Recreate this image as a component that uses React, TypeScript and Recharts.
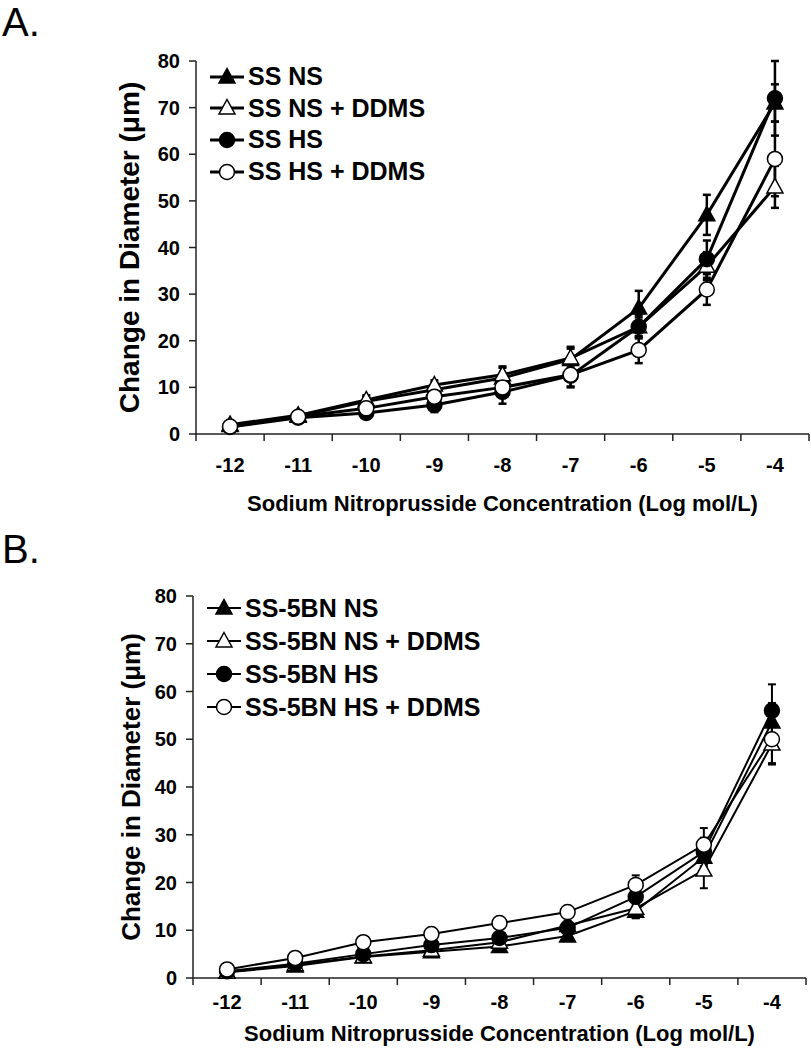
import React from "react";
import { LineChart, Line, XAxis, YAxis, ErrorBar, Legend, Label } from "recharts";

const concentrations = [-12, -11, -10, -9, -8, -7, -6, -5, -4];
const edgeTicks = [-12.5, -11.5, -10.5, -9.5, -8.5, -7.5, -6.5, -5.5, -4.5, -3.5];
const yTicks = [0, 10, 20, 30, 40, 50, 60, 70, 80];

// panel A - SS rats
const ssNS = [1.8, 3.8, 7.0, 9.5, 12.0, 16.0, 27.0, 47.0, 71.0];
const ssNSErr = [0.5, 0.6, 1.0, 1.5, 2.5, 2.7, 3.7, 4.3, 4.0];
const ssNSDdms = [2.0, 4.0, 7.3, 10.5, 12.7, 16.3, 23.0, 36.0, 53.0];
const ssNSDdmsErr = [0.5, 0.6, 1.0, 1.0, 1.5, 2.0, 2.0, 3.0, 4.5];
const ssHS = [1.5, 3.5, 4.5, 6.2, 9.0, 12.5, 23.0, 37.5, 72.0];
const ssHSErr = [0.5, 0.6, 1.0, 1.5, 2.5, 2.5, 2.5, 4.0, 8.0];
const ssHSDdms = [1.6, 3.7, 5.5, 8.0, 10.0, 12.7, 18.0, 31.0, 59.0];
const ssHSDdmsErr = [0.5, 0.6, 1.0, 1.0, 1.5, 2.5, 2.8, 3.3, 8.0];

// panel B - SS-5BN rats
const bnNS = [1.2, 2.5, 4.4, 5.5, 6.6, 8.8, 14.0, 25.3, 53.6];
const bnNSErr = [0.3, 0.5, 0.5, 0.6, 0.8, 1.0, 1.5, 2.5, 4.0];
const bnNSDdms = [1.2, 2.8, 4.5, 5.8, 7.5, 11.0, 14.6, 22.6, 49.0];
const bnNSDdmsErr = [0.3, 0.5, 0.5, 0.6, 0.8, 1.0, 2.0, 3.8, 4.0];
const bnHS = [1.4, 3.0, 5.0, 6.9, 8.4, 10.5, 17.0, 26.4, 56.0];
const bnHSErr = [0.3, 0.5, 0.6, 0.8, 1.0, 1.2, 2.0, 3.0, 5.5];
const bnHSDdms = [1.8, 4.2, 7.5, 9.2, 11.5, 13.8, 19.5, 27.9, 50.0];
const bnHSDdmsErr = [0.3, 0.5, 0.6, 0.8, 1.0, 1.2, 2.0, 3.5, 5.3];

type Series = {
  key: string;
  name: string;
  kind: "triangle" | "circle";
  filled: boolean;
  values: number[];
  errors: number[];
};

const panelA: Series[] = [
  { key: "ns", name: "SS NS", kind: "triangle", filled: true, values: ssNS, errors: ssNSErr },
  { key: "nsd", name: "SS NS + DDMS", kind: "triangle", filled: false, values: ssNSDdms, errors: ssNSDdmsErr },
  { key: "hs", name: "SS HS", kind: "circle", filled: true, values: ssHS, errors: ssHSErr },
  { key: "hsd", name: "SS HS + DDMS", kind: "circle", filled: false, values: ssHSDdms, errors: ssHSDdmsErr },
];

const panelB: Series[] = [
  { key: "ns", name: "SS-5BN NS", kind: "triangle", filled: true, values: bnNS, errors: bnNSErr },
  { key: "nsd", name: "SS-5BN NS + DDMS", kind: "triangle", filled: false, values: bnNSDdms, errors: bnNSDdmsErr },
  { key: "hs", name: "SS-5BN HS", kind: "circle", filled: true, values: bnHS, errors: bnHSErr },
  { key: "hsd", name: "SS-5BN HS + DDMS", kind: "circle", filled: false, values: bnHSDdms, errors: bnHSDdmsErr },
];

function buildRows(series: Series[]) {
  return concentrations.map((x, i) => {
    const row: Record<string, number> = { x };
    series.forEach((s) => {
      row[s.key] = s.values[i];
      row[s.key + "Err"] = s.errors[i];
    });
    return row;
  });
}

function Marker({ cx, cy, kind, filled }: { cx: number; cy: number; kind: string; filled: boolean }) {
  const fill = filled ? "#000" : "#fff";
  if (kind === "circle") {
    return <circle cx={cx} cy={cy} r={7.5} fill={fill} stroke="#000" strokeWidth={1.5} />;
  }
  const pts = `${cx},${cy - 8.5} ${cx + 8},${cy + 6} ${cx - 8},${cy + 6}`;
  return <polygon points={pts} fill={fill} stroke="#000" strokeWidth={1.5} />;
}

function LegendBlock({ series, rowHeight, lineWidth }: { series: Series[]; rowHeight: number; lineWidth: number }) {
  return (
    <div>
      {series.map((s) => (
        <div key={s.key} style={{ display: "flex", alignItems: "center", height: rowHeight }}>
          <svg width={34} height={20} style={{ overflow: "visible" }}>
            <line x1={0} y1={10} x2={34} y2={10} stroke="#000" strokeWidth={lineWidth} />
            <Marker cx={17} cy={10} kind={s.kind} filled={s.filled} />
          </svg>
          <span style={{ marginLeft: 4, fontSize: 25, fontWeight: "bold", lineHeight: 1, whiteSpace: "nowrap", color: "#000" }}>
            {s.name}
          </span>
        </div>
      ))}
    </div>
  );
}

type PanelProps = {
  series: Series[];
  top: number;
  marginTop: number;
  axisWidth: number;
  xAxisHeight: number;
  tickGap: number;
  yLabelSize: number;
  yLabelShift: number;
  legendLeft: number;
  legendTop: number;
  rowHeight: number;
  lineWidth: number;
};

function Panel(p: PanelProps) {
  const rows = buildRows(p.series);
  const tickStyle = { fill: "#000", fontSize: 20, fontWeight: "bold" };
  return (
    <div style={{ position: "absolute", left: 0, top: p.top }}>
      <LineChart width={811} height={520} data={rows} margin={{ top: p.marginTop, right: 811 - p.axisWidth - 613, left: 0, bottom: 0 }}>
        {/* axis line + tick marks between the categories (spreadsheet style) */}
        <XAxis
          dataKey="x"
          type="number"
          domain={[-12.5, -3.5]}
          ticks={edgeTicks}
          interval={0}
          tickFormatter={() => ""}
          height={1}
          axisLine={{ stroke: "#222", strokeWidth: 1.5 }}
          tickLine={{ stroke: "#222", strokeWidth: 1.5 }}
          tickSize={7}
        />
        {/* category labels */}
        <XAxis
          xAxisId="labels"
          dataKey="x"
          type="number"
          domain={[-12.5, -3.5]}
          ticks={concentrations}
          interval={0}
          height={p.xAxisHeight}
          axisLine={false}
          tickLine={false}
          tickSize={6}
          tickMargin={p.tickGap}
          tick={tickStyle}
        >
          <Label
            value="Sodium Nitroprusside Concentration (Log mol/L)"
            position="insideBottom"
            offset={9}
            style={{ fontSize: 22, fontWeight: "bold", fill: "#000" }}
          />
        </XAxis>
        <YAxis
          type="number"
          domain={[0, 80]}
          ticks={yTicks}
          interval={0}
          width={p.axisWidth}
          axisLine={{ stroke: "#222", strokeWidth: 1.5 }}
          tickLine={{ stroke: "#222", strokeWidth: 1.5 }}
          tickSize={7}
          tickMargin={9}
          tick={tickStyle}
        >
          <Label
            value="Change in Diameter (μm)"
            angle={-90}
            position="center"
            dx={p.yLabelShift}
            style={{ fontSize: p.yLabelSize, fontWeight: "bold", fill: "#000", textAnchor: "middle" }}
          />
        </YAxis>
        <Legend
          layout="vertical"
          align="center"
          verticalAlign="middle"
          wrapperStyle={{ left: p.legendLeft, top: p.legendTop, width: "auto", height: "auto" }}
          content={() => <LegendBlock series={p.series} rowHeight={p.rowHeight} lineWidth={p.lineWidth} />}
        />
        {p.series.map((s) => (
          <Line
            key={s.key}
            dataKey={s.key}
            name={s.name}
            type="linear"
            stroke="#000"
            strokeWidth={p.lineWidth}
            isAnimationActive={false}
            activeDot={false}
            dot={(d: any) => <Marker key={`${s.key}-${d.index}`} cx={d.cx} cy={d.cy} kind={s.kind} filled={s.filled} />}
          >
            <ErrorBar
              dataKey={s.key + "Err"}
              direction="y"
              width={4}
              stroke="#000"
              strokeWidth={p.lineWidth === 3 ? 2.5 : 2}
              isAnimationActive={false}
            />
          </Line>
        ))}
      </LineChart>
    </div>
  );
}

export default function App() {
  return (
    <div
      style={{
        position: "absolute",
        left: 0,
        top: 0,
        width: 811,
        height: 1050,
        background: "#fff",
        overflow: "hidden",
        fontFamily: '"Liberation Sans", Arial, sans-serif',
      }}
    >
      <div style={{ position: "absolute", left: 2, top: 5, fontSize: 40, lineHeight: "34px" }}>A.</div>
      <div style={{ position: "absolute", left: 2, top: 532, fontSize: 40, lineHeight: "34px" }}>B.</div>
      <Panel
        series={panelA}
        top={0}
        marginTop={61}
        axisWidth={196}
        xAxisHeight={85}
        tickGap={17}
        yLabelSize={28}
        yLabelShift={31}
        legendLeft={210}
        legendTop={61}
        rowHeight={31.6}
        lineWidth={3}
      />
      <Panel
        series={panelB}
        top={530}
        marginTop={66}
        axisWidth={193}
        xAxisHeight={71}
        tickGap={10}
        yLabelSize={26}
        yLabelShift={34.5}
        legendLeft={207}
        legendTop={61.5}
        rowHeight={33}
        lineWidth={2}
      />
    </div>
  );
}
